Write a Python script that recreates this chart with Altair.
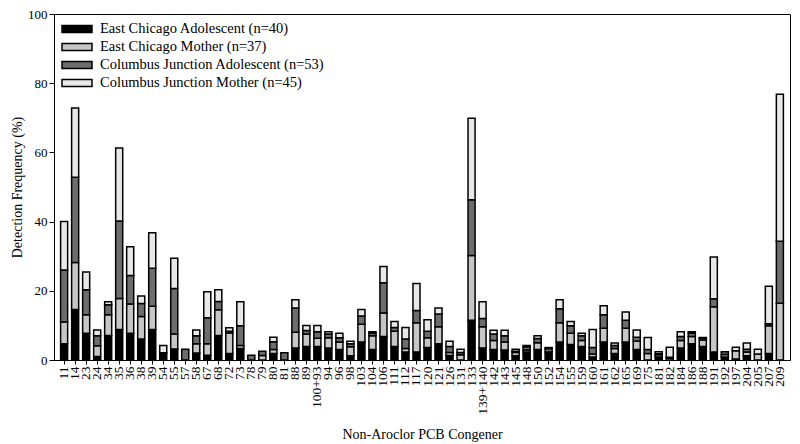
import altair as alt
import pandas as pd

congeners = ["11", "14", "23", "24", "34", "35", "36", "38", "39", "54",
             "55", "57", "58", "67", "68", "72", "73", "78", "79", "80",
             "81", "88", "89", "100+93", "94", "96", "98", "103", "104", "106",
             "111", "112", "117", "120", "121", "126", "127", "131", "133", "139+140",
             "142", "143", "145", "148", "150", "152", "154", "155", "159", "160",
             "161", "162", "165", "169", "175", "181", "182", "184", "186", "188",
             "189", "191", "192", "197", "204", "205", "207", "209"]

ec_adolescent = [4.7, 14.6, 7.7, 1.0, 7.1, 8.8, 7.7, 6.1, 8.8, 2.1,
                 3.2, 0, 2.0, 1.4, 7.1, 1.9, 3.3, 0, 0, 1.9,
                 0, 3.5, 3.9, 3.9, 3.5, 3.0, 1.2, 5.2, 3.0, 6.8,
                 3.9, 2.3, 2.3, 3.6, 4.7, 1.3, 0, 0, 11.5, 3.5,
                 3.0, 2.9, 1.2, 2.3, 3.0, 2.3, 5.2, 4.5, 3.9, 0.9,
                 5.2, 1.9, 5.2, 3.0, 0, 0.9, 0, 3.5, 4.7, 3.9,
                 0, 2.3, 0.9, 0.3, 1.2, 0, 1.9, 0]
ec_mother = [6.3, 13.6, 5.4, 3.1, 6.0, 9.0, 8.5, 6.5, 6.7, 0,
             4.3, 0, 2.7, 3.3, 7.4, 5.9, 0.9, 0, 1.3, 1.1,
             0, 4.5, 3.6, 2.4, 2.9, 2.2, 2.6, 5.1, 4.0, 6.8,
             4.4, 1.0, 8.5, 2.8, 4.9, 0.9, 0, 1.5, 18.7, 6.1,
             2.6, 2.3, 1.0, 0.6, 2.0, 0, 5.6, 3.2, 1.7, 0.8,
             4.0, 1.4, 4.0, 2.4, 1.9, 0.6, 0.5, 2.1, 2.1, 1.9,
             0, 13.1, 0.7, 2.4, 1.1, 1.7, 8.0, 16.4]
cj_adolescent = [15.0, 24.6, 7.2, 2.9, 2.9, 22.4, 8.2, 3.7, 11.0, 0,
                 13.2, 3.1, 2.3, 7.5, 2.4, 0.5, 5.7, 1.4, 1.2, 2.3,
                 2.1, 7.0, 1.0, 1.9, 1.1, 1.2, 0.9, 2.4, 0.7, 8.7,
                 1.1, 2.8, 3.5, 1.9, 3.7, 1.7, 0, 0.7, 16.1, 2.4,
                 1.9, 1.8, 0.3, 0.9, 1.2, 1.0, 4.0, 2.2, 1.4, 1.9,
                 3.9, 0.9, 2.3, 1.2, 1.1, 0.3, 0.3, 1.2, 0.9, 0.5,
                 0, 2.3, 0.8, 0, 0.8, 0, 0.6, 17.9]
cj_mother = [14.0, 20.0, 5.1, 1.7, 0.8, 21.1, 8.3, 2.2, 10.3, 2.1,
             8.7, 0, 1.7, 7.5, 3.4, 1.0, 6.9, 0, 0, 1.3,
             0, 2.4, 1.5, 1.8, 0.7, 1.3, 0.7, 1.9, 0.5, 4.7,
             1.7, 3.3, 7.8, 3.3, 1.7, 1.5, 0, 0.9, 23.6, 4.8,
             1.1, 1.6, 0.6, 0.4, 0.8, 0.3, 2.6, 1.2, 0.7, 5.2,
             2.6, 0.7, 2.4, 2.1, 3.5, 0.6, 2.9, 1.4, 0.5, 0.2,
             0, 12.1, 0, 1.0, 1.8, 1.4, 10.8, 42.5]

groups = ["East Chicago Adolescent (n=40)", "East Chicago Mother (n=37)",
          "Columbus Junction Adolescent (n=53)", "Columbus Junction Mother (n=45)"]
colors = ["#000000", "#c6c6c6", "#6d6d6d", "#e8e8e8"]

rows = []
for k, (g, vals) in enumerate(zip(groups, [ec_adolescent, ec_mother, cj_adolescent, cj_mother])):
    for c, v in zip(congeners, vals):
        if v > 0:
            rows.append({"congener": c, "group": g, "k": k, "value": v})
df = pd.DataFrame(rows)

FONT = "Liberation Serif"

chart = alt.Chart(df).mark_bar(stroke="black", strokeWidth=1.5).encode(
    x=alt.X("congener:N", sort=congeners,
            scale=alt.Scale(paddingInner=0.36, paddingOuter=0.6),
            axis=alt.Axis(title="Non-Aroclor PCB Congener", labelAngle=-90,
                          labelFont=FONT, labelFontSize=13.5, labelColor="black",
                          titleFont=FONT, titleFontSize=14, titleFontWeight="normal",
                          titleColor="black", tickColor="black", domainColor="black",
                          tickSize=4, labelPadding=2, titlePadding=13)),
    y=alt.Y("value:Q", stack="zero",
            scale=alt.Scale(domain=[0, 100], nice=False),
            axis=alt.Axis(title="Detection Frequency (%)", values=[0, 20, 40, 60, 80, 100],
                          grid=False, labelFont=FONT, labelFontSize=13, labelColor="black",
                          titleFont=FONT, titleFontSize=14, titleFontWeight="normal",
                          titleColor="black", tickColor="black", domainColor="black",
                          tickSize=5, labelPadding=2, titlePadding=3)),
    color=alt.Color("group:N", sort=groups,
                    scale=alt.Scale(domain=groups, range=colors),
                    legend=alt.Legend(title=None, orient="top-left", offset=7,
                                      symbolType="M-1,-0.24H1V0.24H-1Z", symbolSize=900,
                                      symbolStrokeColor="black", symbolStrokeWidth=1.5,
                                      symbolOpacity=1, clipHeight=16, rowPadding=2,
                                      labelFont=FONT, labelFontSize=14.5, labelColor="black",
                                      labelOffset=7, labelLimit=400)),
    order=alt.Order("k:Q", sort="ascending"),
).properties(
    width=736, height=346,
    autosize=alt.AutoSizeParams(type="none"),
    padding={"left": 46, "top": 6, "right": 2, "bottom": 82},
).configure_view(stroke="black", strokeWidth=1)

chart.save("out.html", embed_options={"renderer": "svg", "actions": False})
